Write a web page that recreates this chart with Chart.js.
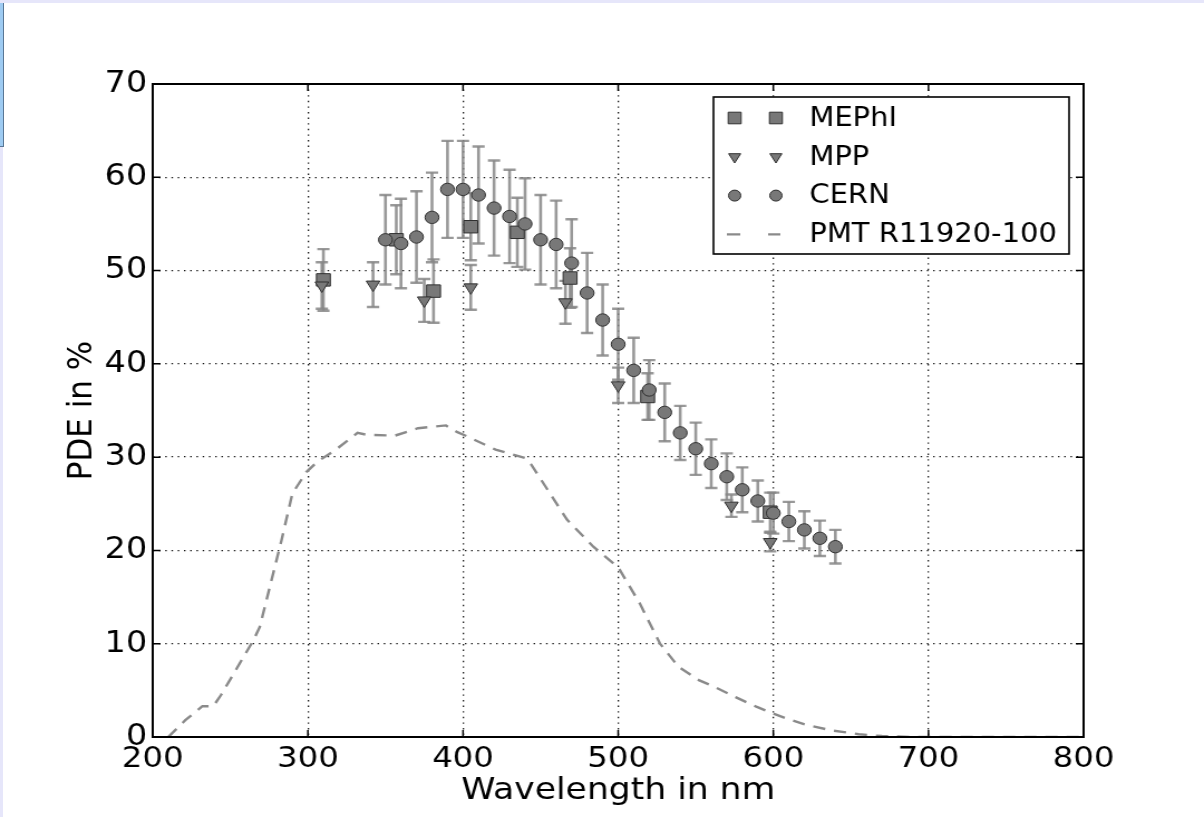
<!DOCTYPE html>
<html>
<head>
<meta charset="utf-8">
<script src="https://cdn.jsdelivr.net/npm/chart.js@4.4.0/dist/chart.umd.min.js"></script>
<style>
  html, body { margin: 0; padding: 0; background: #fff; }
  #page { position: relative; width: 1204px; height: 817px; overflow: hidden; background: #fff; }
  #wrap { position: absolute; left: 0; top: 0; width: 1080px; height: 817px; transform: scaleX(1.1148); transform-origin: 0 0; }
  #topbar { position: absolute; left: 0; top: 0; width: 1204px; height: 3px; background: #e6e6fa; }
  #leftbar { position: absolute; left: 0; top: 0; width: 3px; height: 817px; background: #e6e6fa; }
  #tab { position: absolute; left: 0; top: 3px; width: 3px; height: 143px; background: #9ecbf2; border-right: 1px solid #5a7896; border-bottom: 1px solid #5a7896; }
</style>
</head>
<body>
<div id="page">
  <div id="wrap"><canvas id="pdeChart" width="1080" height="817"></canvas></div>
  <div id="topbar"></div>
  <div id="leftbar"></div>
  <div id="tab"></div>
</div>
<script>
// MEPhI measurement
const mephiNm  = [310, 357, 381, 405, 435, 469, 519, 598];
const mephiPde = [49.0, 53.3, 47.8, 54.7, 54.1, 49.2, 36.5, 24.1];
const mephiErr = [3.3, 3.7, 3.4, 3.6, 3.7, 3.2, 2.5, 2.1];

// MPP measurement
const mppNm  = [309, 342, 375, 405, 466, 500, 573, 598];
const mppPde = [48.4, 48.5, 46.8, 48.2, 46.6, 37.7, 24.8, 20.9];
const mppErr = [2.5, 2.4, 2.3, 2.4, 2.3, 1.9, 1.2, 1.0];

// CERN measurement
const cernNm  = [350, 360, 370, 380, 390, 400, 410, 420, 430, 440, 450, 460, 470, 480, 490,
                 500, 510, 520, 530, 540, 550, 560, 570, 580, 590, 600, 610, 620, 630, 640];
const cernPde = [53.3, 52.9, 53.6, 55.7, 58.7, 58.7, 58.1, 56.7, 55.8, 55.0, 53.3, 52.8, 50.8, 47.6, 44.7,
                 42.1, 39.3, 37.2, 34.8, 32.6, 30.9, 29.3, 27.9, 26.5, 25.3, 24.0, 23.1, 22.2, 21.3, 20.4];
const cernErr = [4.8, 4.8, 4.9, 4.8, 5.2, 5.2, 5.2, 5.1, 5.0, 4.9, 4.8, 4.7, 4.7, 4.3, 3.8,
                 3.8, 3.5, 3.2, 3.1, 2.9, 2.8, 2.6, 2.5, 2.4, 2.2, 2.2, 2.1, 2.0, 1.9, 1.8];

// PMT R11920-100 reference curve
const pmtNm  = [210, 221, 232, 239, 244, 265, 269, 283, 290, 299, 306, 318, 332, 338, 356, 371, 389, 396,
                403, 421, 440, 444, 467, 484, 500, 514, 527, 539, 552, 563, 576, 589, 600, 608, 621, 638,
                655, 670, 690, 800];
const pmtPde = [0, 1.8, 3.3, 3.3, 4.5, 10.4, 11.8, 21.1, 26.1, 28.4, 29.5, 30.8, 32.6, 32.4, 32.3, 33.1, 33.4, 32.7,
                32.2, 30.8, 29.9, 29.2, 23.3, 20.4, 18.2, 14.3, 10.0, 7.5, 6.1, 5.3, 4.25, 3.25, 2.5, 2.0, 1.3, 0.7,
                0.3, 0.1, 0, 0];

const xTicks = [200, 300, 400, 500, 600, 700, 800];
const yTicks = [0, 10, 20, 30, 40, 50, 60, 70];

const FONT = 'DejaVu Sans';
const markerFill = '#787878';
const markerEdge = '#303030';

function pts(xs, ys) {
    return xs.map((x, i) => ({ x: x, y: ys[i] }));
}

// vertical error bars with caps, drawn under the markers
const errorBars = {
    id: 'errorBars',
    beforeDatasetsDraw(chart) {
        const { ctx, scales: { x, y } } = chart;
        const cap = 5.5;
        ctx.save();
        ctx.strokeStyle = 'rgba(135,135,135,0.85)';
        chart.data.datasets.forEach(ds => {
            if (!ds.errors) return;
            ds.data.forEach((p, i) => {
                const px = x.getPixelForValue(p.x);
                const top = y.getPixelForValue(p.y + ds.errors[i]);
                const bot = y.getPixelForValue(p.y - ds.errors[i]);
                ctx.lineWidth = 2.6;
                ctx.beginPath();
                ctx.moveTo(px, top);
                ctx.lineTo(px, bot);
                ctx.stroke();
                ctx.lineWidth = 2.4;
                ctx.beginPath();
                ctx.moveTo(px - cap, top); ctx.lineTo(px + cap, top);
                ctx.moveTo(px - cap, bot); ctx.lineTo(px + cap, bot);
                ctx.stroke();
            });
        });
        ctx.restore();
    }
};

function drawMarker(ctx, style, cx, cy, r) {
    ctx.beginPath();
    if (style === 'rect') {
        const s = r * Math.SQRT1_2;
        ctx.rect(cx - s, cy - s, 2 * s, 2 * s);
    } else if (style === 'triangle') {
        // pointing down
        ctx.moveTo(cx, cy + r);
        ctx.lineTo(cx - r * Math.sin(Math.PI / 3), cy - r / 2);
        ctx.lineTo(cx + r * Math.sin(Math.PI / 3), cy - r / 2);
        ctx.closePath();
    } else {
        ctx.arc(cx, cy, r, 0, Math.PI * 2);
    }
    ctx.fill();
    ctx.stroke();
}

// matplotlib-like frame: box, inward ticks, legend with two markers per entry
const frame = {
    id: 'frame',
    afterDraw(chart) {
        const { ctx, chartArea: a, scales: { x, y } } = chart;
        ctx.save();
        ctx.strokeStyle = '#000';
        ctx.lineWidth = 1.5;
        ctx.beginPath();
        x.ticks.forEach(t => {
            const px = x.getPixelForValue(t.value);
            ctx.moveTo(px, a.bottom); ctx.lineTo(px, a.bottom - 7);
            ctx.moveTo(px, a.top); ctx.lineTo(px, a.top + 7);
        });
        y.ticks.forEach(t => {
            const py = y.getPixelForValue(t.value);
            ctx.moveTo(a.left, py); ctx.lineTo(a.left + 7, py);
            ctx.moveTo(a.right, py); ctx.lineTo(a.right - 7, py);
        });
        ctx.stroke();
        ctx.lineWidth = 2;
        ctx.strokeRect(a.left, a.top, a.right - a.left, a.bottom - a.top);

        // legend
        const bx = a.right - 13 - 319, by = a.top + 13, bw = 319, bh = 157;
        ctx.fillStyle = '#fff';
        ctx.fillRect(bx, by, bw, bh);
        ctx.lineWidth = 1.6;
        ctx.strokeRect(bx, by, bw, bh);
        ctx.font = '26px "' + FONT + '"';
        ctx.textBaseline = 'middle';
        ctx.textAlign = 'left';
        chart.data.datasets.forEach((ds, i) => {
            const ry = by + 21 + i * 38.8;
            const m1 = bx + 19, m2 = bx + 56;
            if (ds.showLine) {
                ctx.save();
                ctx.strokeStyle = ds.borderColor;
                ctx.lineWidth = ds.borderWidth;
                ctx.beginPath();
                ctx.moveTo(m1 - 7, ry); ctx.lineTo(m1 + 5, ry);
                ctx.moveTo(m2 - 7, ry); ctx.lineTo(m2 + 4, ry);
                ctx.stroke();
                ctx.restore();
            } else {
                ctx.fillStyle = markerFill;
                ctx.strokeStyle = markerEdge;
                ctx.lineWidth = 1;
                drawMarker(ctx, ds.pointStyle, m1, ry, ds.legendRadius);
                drawMarker(ctx, ds.pointStyle, m2, ry, ds.legendRadius);
            }
            ctx.fillStyle = '#000';
            ctx.fillText(ds.label, bx + 86, ry + 1);
        });
        ctx.restore();
    }
};

const ctx = document.getElementById('pdeChart').getContext('2d');
new Chart(ctx, {
    type: 'scatter',
    data: {
        datasets: [
            {
                label: 'MEPhI',
                data: pts(mephiNm, mephiPde),
                errors: mephiErr,
                pointStyle: 'rect',
                pointRadius: 8.8,
                legendRadius: 8.2,
                backgroundColor: markerFill,
                borderColor: markerEdge,
                borderWidth: 1,
                order: 3
            },
            {
                label: 'MPP',
                data: pts(mppNm, mppPde),
                errors: mppErr,
                pointStyle: 'triangle',
                pointRotation: 180,
                pointRadius: 7,
                legendRadius: 6.2,
                backgroundColor: markerFill,
                borderColor: markerEdge,
                borderWidth: 1,
                order: 2
            },
            {
                label: 'CERN',
                data: pts(cernNm, cernPde),
                errors: cernErr,
                pointStyle: 'circle',
                pointRadius: 6.2,
                legendRadius: 5.5,
                backgroundColor: markerFill,
                borderColor: markerEdge,
                borderWidth: 1,
                order: 1
            },
            {
                label: 'PMT R11920-100',
                data: pts(pmtNm, pmtPde),
                showLine: true,
                pointRadius: 0,
                borderColor: '#8a8a8a',
                borderWidth: 2.4,
                borderDash: [11, 8],
                tension: 0,
                order: 0
            }
        ]
    },
    options: {
        responsive: false,
        animation: false,
        devicePixelRatio: 1,
        layout: { padding: { top: 84, right: 108, left: 0, bottom: 0 } },
        plugins: { legend: { display: false }, tooltip: { enabled: false } },
        scales: {
            x: {
                type: 'linear',
                min: 200, max: 800,
                afterFit(s) { s.height = 80; },
                afterBuildTicks(s) { s.ticks = xTicks.map(v => ({ value: v })); },
                ticks: { color: '#000', font: { family: FONT, size: 29 }, padding: 5 },
                grid: { color: '#1a1a1a', lineWidth: 1.3, drawTicks: false },
                border: { display: false, dash: [1.4, 4.2] },
                title: { display: true, text: 'Wavelength in nm', color: '#000',
                         font: { family: FONT, size: 31 }, padding: { top: 0, bottom: 7 } }
            },
            y: {
                type: 'linear',
                min: 0, max: 70,
                afterFit(s) { s.width = 137; },
                afterBuildTicks(s) { s.ticks = yTicks.map(v => ({ value: v })); },
                ticks: { color: '#000', font: { family: FONT, size: 30 }, padding: 5 },
                grid: { color: '#1a1a1a', lineWidth: 1.3, drawTicks: false },
                border: { display: false, dash: [1.4, 4.2] },
                title: { display: true, text: 'PDE in %', color: '#000',
                         font: { family: FONT, size: 31 }, padding: { top: 55, bottom: 0 } }
            }
        }
    },
    plugins: [errorBars, frame]
});
</script>
</body>
</html>
